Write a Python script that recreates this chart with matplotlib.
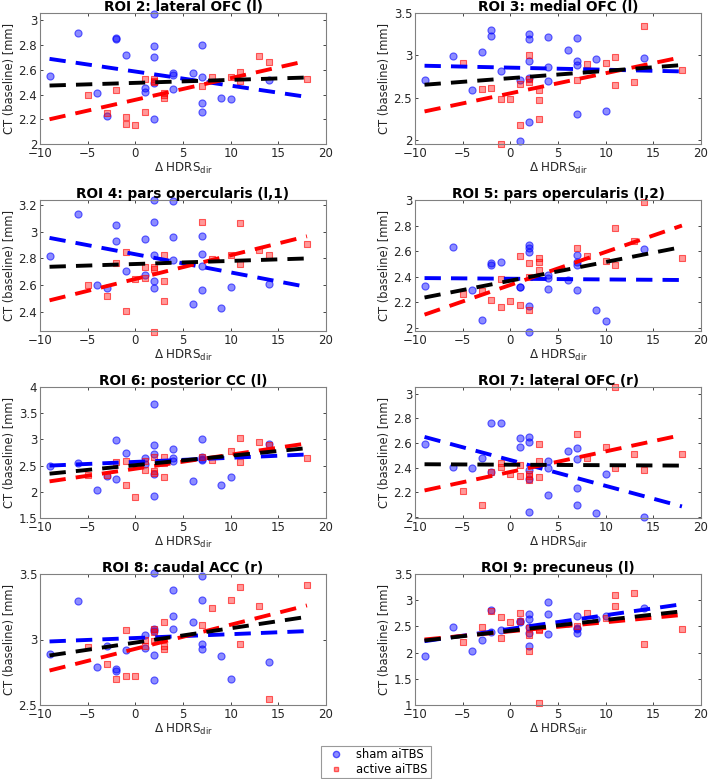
import matplotlib
matplotlib.use('Agg')
import matplotlib.pyplot as plt
from matplotlib.lines import Line2D

plt.rcParams['font.family'] = ['DejaVu Sans']
plt.rcParams['font.size'] = 8

# x values (delta HDRS_dir) per group
sham_x = [-9, -6, -4, -3, -2, -2, -1, 1, 1, 2, 2, 2, 2, 2, 4, 4, 4, 6, 7, 7, 7, 7, 9, 10, 14]
active_x = [-5, -3, -2, -1, -1, 0, 1, 1, 2, 2, 2, 3, 3, 3, 7, 8, 10, 11, 11, 13, 14, 18]

titles = ['ROI 2: lateral OFC (l)', 'ROI 3: medial OFC (l)',
          'ROI 4: pars opercularis (l,1)', 'ROI 5: pars opercularis (l,2)',
          'ROI 6: posterior CC (l)', 'ROI 7: lateral OFC (r)',
          'ROI 8: caudal ACC (r)', 'ROI 9: precuneus (l)']

ylims = [(2, 3.06), (1.955, 3.5), (2.26, 3.235), (1.975, 3.0),
         (1.5, 4), (1.99, 3.055), (2.5, 3.5), (1, 3.5)]
yticks = [[2, 2.2, 2.4, 2.6, 2.8, 3], [2, 2.5, 3, 3.5],
          [2.4, 2.6, 2.8, 3, 3.2], [2, 2.2, 2.4, 2.6, 2.8, 3],
          [1.5, 2, 2.5, 3, 3.5, 4], [2, 2.2, 2.4, 2.6, 2.8, 3],
          [2.5, 3, 3.5], [1, 1.5, 2, 2.5, 3, 3.5]]

sham_y = [
    [2.549, 2.90, 2.41, 2.224, 2.854, 2.846, 2.724, 2.454, 2.42, 3.05, 2.79, 2.708, 2.497, 2.205,
     2.573, 2.56, 2.443, 2.573, 2.805, 2.54, 2.335, 2.262, 2.376, 2.362, 2.514],
    [2.713, 2.996, 2.595, 3.035, 3.30, 3.228, 2.815, 2.713, 1.992, 3.256, 3.197, 2.933, 2.728, 2.217,
     3.22, 2.866, 2.693, 3.063, 3.205, 2.929, 2.89, 2.307, 2.957, 2.35, 2.972],
    [2.818, 3.133, 2.60, 2.58, 3.05, 2.933, 2.703, 2.945, 2.68, 3.235, 3.073, 2.825, 2.633, 2.58,
     3.228, 2.963, 2.788, 2.463, 2.968, 2.833, 2.745, 2.563, 2.433, 2.585, 2.608],
    [2.324, 2.629, 2.295, 2.063, 2.505, 2.492, 2.516, 2.321, 2.316, 2.645, 2.624, 2.592, 2.168, 1.971,
     2.411, 2.387, 2.305, 2.374, 2.568, 2.516, 2.489, 2.292, 2.137, 2.05, 2.616],
    [2.487, 2.545, 2.038, 2.30, 2.987, 2.237, 2.744, 2.654, 2.53, 3.68, 2.89, 2.724, 2.333, 1.923,
     2.814, 2.647, 2.583, 2.205, 3.006, 2.667, 2.615, 2.62, 2.135, 2.288, 2.904],
    [2.592, 2.405, 2.397, 2.476, 2.759, 2.365, 2.762, 2.638, 2.57, 2.649, 2.611, 2.378, 2.311, 2.04,
     2.457, 2.178, 2.40, 2.538, 2.562, 2.473, 2.23, 2.097, 2.03, 2.351, 1.997],
    [2.893, 3.291, 2.793, 2.954, 2.778, 2.758, 2.923, 3.036, 2.936, 3.505, 3.064, 2.883, 2.691, 3.08,
     3.375, 3.181, 3.082, 3.135, 3.485, 3.301, 2.962, 2.926, 2.875, 2.696, 2.829],
    [1.929, 2.487, 2.038, 2.237, 2.814, 2.391, 2.423, 2.609, 2.583, 2.744, 2.641, 2.487, 2.372, 2.128,
     2.962, 2.744, 2.353, 2.564, 2.705, 2.468, 2.372, 2.45, 2.641, 2.705, 2.846],
]

active_y = [
    [2.397, 2.254, 2.435, 2.216, 2.159, 2.157, 2.53, 2.259, 2.527, 2.51, 2.50, 2.376, 2.40, 2.41,
     2.47, 2.54, 2.546, 2.58, 2.51, 2.716, 2.665, 2.527],
    [2.913, 2.602, 2.614, 2.484, 1.957, 2.484, 2.665, 2.181, 3.008, 2.689, 2.72, 2.587, 2.469, 2.252,
     2.705, 2.894, 2.91, 2.98, 2.65, 2.681, 3.35, 2.827],
    [2.603, 2.52, 2.765, 2.848, 2.41, 2.65, 2.74, 2.655, 2.74, 2.253, 2.72, 2.828, 2.635, 2.483,
     3.07, 2.793, 2.823, 3.065, 2.76, 2.863, 2.828, 2.908],
    [2.261, 2.289, 2.218, 2.382, 2.163, 2.208, 2.563, 2.176, 2.505, 2.139, 2.40, 2.55, 2.518, 2.45,
     2.626, 2.558, 2.524, 2.784, 2.489, 2.676, 2.984, 2.545],
    [2.314, 2.327, 2.577, 2.596, 2.122, 1.91, 2.41, 2.58, 2.66, 2.39, 2.35, 2.66, 2.282, 2.55,
     2.673, 2.609, 2.776, 3.019, 2.571, 2.955, 2.891, 2.654],
    [2.208, 2.092, 2.365, 2.435, 2.405, 2.346, 2.335, 2.42, 2.351, 2.33, 2.297, 2.589, 2.454, 2.327,
     2.673, 2.476, 2.565, 3.054, 2.397, 2.508, 2.384, 2.514],
    [2.941, 2.811, 2.699, 3.074, 2.719, 2.724, 2.95, 3.0, 3.082, 2.987, 3.06, 3.13, 2.952, 2.931,
     3.11, 3.242, 3.304, 3.398, 2.962, 3.258, 2.548, 3.418],
    [2.199, 2.487, 2.801, 2.673, 2.276, 2.59, 2.75, 2.6, 2.333, 2.026, 2.47, 2.436, 1.045, 2.45,
     2.5, 2.756, 2.66, 3.096, 2.891, 3.128, 2.16, 2.455],
]

# regression lines, value at x=-9 and at x=18
line_x = [-9, 18]
sham_fit = [(2.689, 2.381), (2.878, 2.811), (2.953, 2.588), (2.389, 2.374),
            (2.50, 2.712), (2.649, 2.084), (2.985, 3.064), (2.218, 2.923)]
active_fit = [(2.20, 2.673), (2.339, 2.98), (2.488, 2.965), (2.103, 2.80),
              (2.199, 2.923), (2.214, 2.665), (2.763, 3.26), (2.25, 2.718)]
all_fit = [(2.473, 2.538), (2.654, 2.886), (2.738, 2.80), (2.237, 2.632),
           (2.346, 2.833), (2.427, 2.416), (2.878, 3.173), (2.231, 2.788)]

fig = plt.figure(figsize=(7.09, 7.79), dpi=100)

W, H = 709, 779
col_left = [40, 415]
col_w = 286
row_top = [13, 200, 387, 574]
row_h = 131

circ_face = (0, 0, 1, 0.45)
circ_edge = (0, 0, 1, 0.6)
sq_face = (1, 0, 0, 0.4)
sq_edge = (1, 0, 0, 0.6)
dash = (4.2, 2.6)

for i in range(8):
    r, c = divmod(i, 2)
    ax = fig.add_axes([col_left[c] / W, 1 - (row_top[r] + row_h) / H, col_w / W, row_h / H])

    ax.scatter(sham_x, sham_y[i], s=26, marker='o', facecolor=circ_face,
               edgecolor=circ_edge, linewidths=0.8, clip_on=False, zorder=2)
    ax.scatter(active_x, active_y[i], s=13, marker='s', facecolor=sq_face,
               edgecolor=sq_edge, linewidths=0.8, clip_on=False, zorder=2)

    ax.plot(line_x, sham_fit[i], color='blue', lw=2.8, dashes=dash, zorder=3)
    ax.plot(line_x, active_fit[i], color='red', lw=2.8, dashes=dash, zorder=4)
    ax.plot(line_x, all_fit[i], color='black', lw=2.8, dashes=dash, zorder=5)

    ax.set_xlim(-10, 20)
    ax.set_ylim(*ylims[i])
    ax.set_xticks([-10, -5, 0, 5, 10, 15, 20])
    ax.set_yticks(yticks[i])
    ax.set_yticklabels([f'{v:g}' for v in yticks[i]])
    ax.tick_params(direction='in', length=2.5, width=0.6, colors='#262626',
                   labelsize=8.5, top=True, right=True, pad=2)
    for s in ax.spines.values():
        s.set_color('#808080')
        s.set_linewidth(0.8)

    ax.set_title(titles[i], fontsize=9.8, fontweight='bold', pad=1.5)
    ax.set_ylabel('CT (baseline) [mm]', fontsize=8.3, color='#262626', labelpad=2)
    ax.set_xlabel(r'$\Delta$ HDRS$_{\mathregular{dir}}$', fontsize=8.6, color='#262626', labelpad=1)

handles = [
    Line2D([], [], ls='none', marker='o', ms=4.5, markerfacecolor=circ_face,
           markeredgecolor=circ_edge, label='sham aiTBS'),
    Line2D([], [], ls='none', marker='s', ms=3.5, markerfacecolor=sq_face,
           markeredgecolor=sq_edge, label='active aiTBS'),
]
leg = fig.legend(handles=handles, loc='center', bbox_to_anchor=(376 / W, 1 - 762 / H),
                 fontsize=8.3, frameon=True, fancybox=False, edgecolor='#808080',
                 handletextpad=0.8, borderpad=0.25, labelspacing=0.1, handlelength=2.0)
leg.get_frame().set_linewidth(0.8)

fig.savefig('out.png', dpi=100)
